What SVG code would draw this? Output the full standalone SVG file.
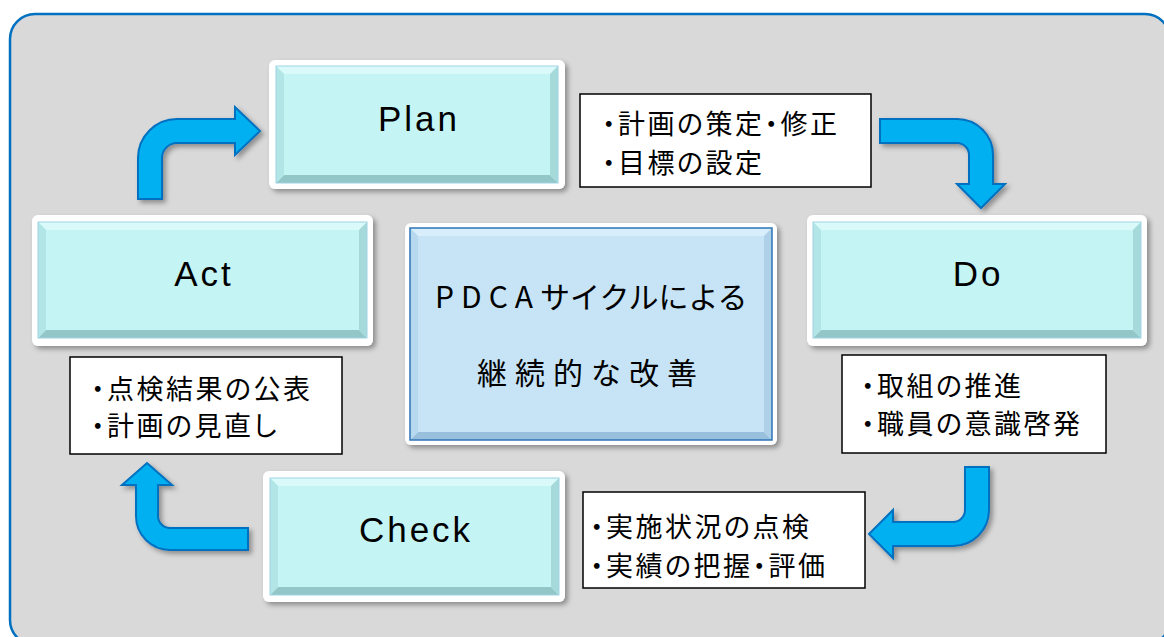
<svg xmlns="http://www.w3.org/2000/svg" width="1164" height="637" viewBox="0 0 1164 637">
<defs>
<style>
.frame{fill:#ffffff;filter:url(#sh)}
.face{fill:#c5f4f4}
.edge{fill:none;stroke:#9fd3e6;stroke-width:1}
.bt{fill:#daf9f9}
.bb{fill:#92c6c7}
.bl{fill:#b2e5e5}
.br{fill:#a6d9da}
.cface{fill:#c7e4f6}
.cedge{fill:none;stroke:#2e75b6;stroke-width:1.5}
.cbt{fill:#d9eefb}
.cbb{fill:#98bfdb}
.cbl{fill:#b7d9ef}
.cbr{fill:#aed0e8}
.lbl{font-family:"Liberation Sans",Arial,sans-serif;font-size:35px;letter-spacing:3px;text-anchor:middle;fill:#000}
.nbox{fill:#ffffff;stroke:#000000;stroke-width:1.5}
.nt{font-family:"Noto Sans CJK JP","Noto Sans",sans-serif;font-size:27px;letter-spacing:2.5px;fill:#000;font-feature-settings:"palt"}
.ct{font-family:"Noto Sans CJK JP","Noto Sans",sans-serif;font-size:30px;fill:#000}
.arrow{fill:#00b0f0;stroke:#0070c0;stroke-width:2;stroke-linejoin:miter;filter:url(#sh)}
</style>
<filter id="sh" x="-10%" y="-10%" width="130%" height="140%">
<feDropShadow dx="3" dy="3" stdDeviation="2.5" flood-color="#000000" flood-opacity="0.35"/>
</filter>
</defs>

<rect id="background" x="10" y="14" width="1160" height="631" rx="25" fill="#d9d9d9" stroke="#0070c0" stroke-width="2.5"/>

<g id="connectors">
<path class="arrow" d="M138,199 L138,158 A39,39 0 0 1 177,119 L235,119 L235,107 L260,131 L235,155 L235,143 L177,143 A15,15 0 0 0 162,158 L162,199 Z"/>
<path class="arrow" d="M880,119 L957,119 A36,36 0 0 1 993,155 L993,184 L1005,184 L981,208 L957,184 L969,184 L969,155 A12,12 0 0 0 957,143 L880,143 Z"/>
<path class="arrow" d="M965,467 L989,467 L989,510 A36,36 0 0 1 953,546 L893,546 L893,558 L869,534 L893,510 L893,522 L953,522 A12,12 0 0 0 965,510 Z"/>
<path class="arrow" d="M248,528 L170,528 A12,12 0 0 1 158,516 L158,485 L172,485 L147,463 L122,485 L136,485 L136,516 A34,34 0 0 0 170,550 L248,550 Z"/>
</g>

<g id="plan">
<rect class="frame" x="269" y="60" width="296" height="129" rx="6"/>
<rect class="face" x="276" y="66" width="282" height="117"/>
<polygon class="bt" points="276,66 558,66 550,74 284,74"/>
<polygon class="bb" points="276,183 558,183 550,175 284,175"/>
<polygon class="bl" points="276,66 284,74 284,175 276,183"/>
<polygon class="br" points="558,66 550,74 550,175 558,183"/>
<rect class="edge" x="276" y="66" width="282" height="117"/>
<text class="lbl" x="419" y="131">Plan</text>
</g>

<g id="plan-note">
<rect class="nbox" x="580" y="94" width="291" height="93"/>
<text class="nt" x="602" y="133.5">・計画の策定・修正</text>
<text class="nt" x="602" y="172.5">・目標の設定</text>
</g>

<g id="do">
<rect class="frame" x="807" y="215" width="340" height="131" rx="6"/>
<rect class="face" x="813" y="222" width="328" height="116"/>
<polygon class="bt" points="813,222 1141,222 1133,230 821,230"/>
<polygon class="bb" points="813,338 1141,338 1133,330 821,330"/>
<polygon class="bl" points="813,222 821,230 821,330 813,338"/>
<polygon class="br" points="1141,222 1133,230 1133,330 1141,338"/>
<rect class="edge" x="813" y="222" width="328" height="116"/>
<text class="lbl" x="978" y="286">Do</text>
</g>

<g id="do-note">
<rect class="nbox" x="842" y="355" width="264" height="98"/>
<text class="nt" x="861" y="395.5">・取組の推進</text>
<text class="nt" x="861" y="434">・職員の意識啓発</text>
</g>

<g id="check">
<rect class="frame" x="263" y="471" width="302" height="131" rx="6"/>
<rect class="face" x="270" y="478" width="289" height="117"/>
<polygon class="bt" points="270,478 559,478 551,486 278,486"/>
<polygon class="bb" points="270,595 559,595 551,587 278,587"/>
<polygon class="bl" points="270,478 278,486 278,587 270,595"/>
<polygon class="br" points="559,478 551,486 551,587 559,595"/>
<rect class="edge" x="270" y="478" width="289" height="117"/>
<text class="lbl" x="416" y="542">Check</text>
</g>

<g id="check-note">
<rect class="nbox" x="583" y="492" width="282" height="96"/>
<text class="nt" x="590" y="537">・実施状況の点検</text>
<text class="nt" x="590" y="576">・実績の把握・評価</text>
</g>

<g id="act">
<rect class="frame" x="32" y="215" width="341" height="131" rx="6"/>
<rect class="face" x="38" y="222" width="329" height="116"/>
<polygon class="bt" points="38,222 367,222 359,230 46,230"/>
<polygon class="bb" points="38,338 367,338 359,330 46,330"/>
<polygon class="bl" points="38,222 46,230 46,330 38,338"/>
<polygon class="br" points="367,222 359,230 359,330 367,338"/>
<rect class="edge" x="38" y="222" width="329" height="116"/>
<text class="lbl" x="204" y="286">Act</text>
</g>

<g id="act-note">
<rect class="nbox" x="70" y="357" width="272" height="97"/>
<text class="nt" x="91" y="398.5">・点検結果の公表</text>
<text class="nt" x="91" y="435.5">・計画の見直し</text>
</g>

<g id="center">
<rect class="frame" x="405" y="223" width="372" height="222" rx="6"/>
<rect class="cface" x="410" y="228" width="362" height="212"/>
<polygon class="cbt" points="410,228 772,228 764,236 418,236"/>
<polygon class="cbb" points="410,440 772,440 764,432 418,432"/>
<polygon class="cbl" points="410,228 418,236 418,432 410,440"/>
<polygon class="cbr" points="772,228 764,236 764,432 772,440"/>
<rect class="cedge" x="410" y="228" width="362" height="212"/>
<text class="ct" x="435" y="308"><tspan letter-spacing="7">PDCA</tspan>サイクルによる</text>
<text class="ct" x="477" y="384" letter-spacing="8">継続的な改善</text>
</g>
</svg>
